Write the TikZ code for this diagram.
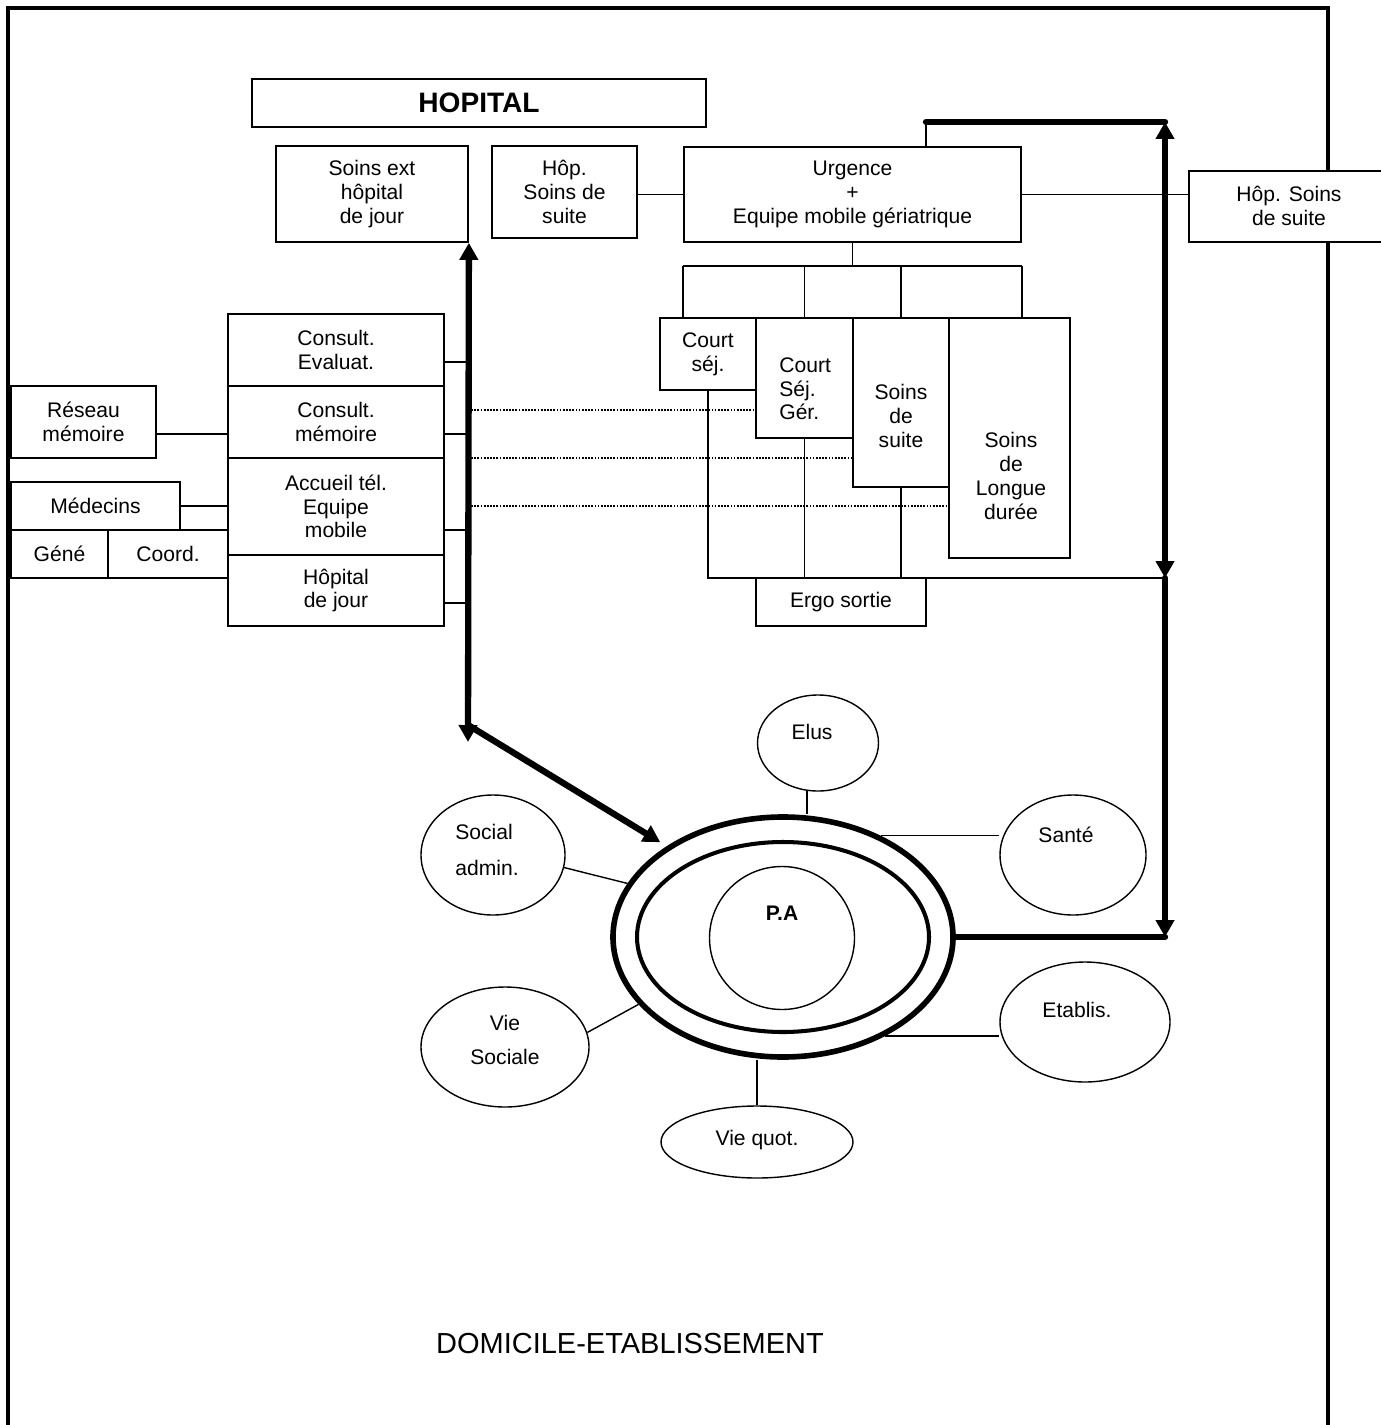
\documentclass[tikz,border=0pt]{standalone}
\usepackage{fontspec}
\setmainfont{Liberation Sans}
\usetikzlibrary{shapes.geometric,arrows.meta}

\tikzset{
  boite/.style={draw, line width=1pt, inner sep=0pt, align=center},
  taille/.style 2 args={minimum width=#1*0.02cm, minimum height=#2*0.02cm},
  bulle/.style={draw, ellipse, line width=0.8pt, inner sep=0pt},
  texte/.style={inner sep=0pt, align=center},
  gras/.style={font=\fontsize{12}{13.5}\selectfont\bfseries},
  trait/.style={line width=0.8pt},
  pointille/.style={line width=0.6pt, dash pattern=on 1pt off 0.8pt},
  epais/.style={line width=3.6pt, line cap=round},
  cadre/.style={line width=2pt},
}

\begin{document}
\begin{tikzpicture}[x=0.02cm, y=-0.02cm, font=\fontsize{12}{13.5}\selectfont,
    >={Triangle[length=0.34cm, width=0.36cm]}]
    \useasboundingbox (0,0) rectangle (1380,1425);

    % Cadre
    \draw[cadre] (8,1425) -- (8,8) -- (1328,8) -- (1328,1425);

    % Hopital
    \node[boite, taille={454}{48}, font=\fontsize{16}{18}\selectfont\bfseries] (hopital) at (479,103) {HOPITAL};
    \node[boite, taille={192}{96}] (soinsext) at (372,194) {Soins ext\\hôpital\\de jour};
    \node[boite, taille={145}{92}] (hopsuite) at (564.5,192) {Hôp.\\Soins de\\suite};
    \node[boite, taille={337}{95}] (urgence) at (852.5,194.5) {Urgence\\+\\Equipe mobile gériatrique};
    \node[boite, fill=white, taille={240}{71}] (hopsuiteD) at (1309,206.5) {};
    \node[texte] (thopsuiteD) at (1289,206) {Hôp. Soins\\de suite};

    % Consultations
    \node[boite, taille={216}{72}] (consevl) at (336,350) {Consult.\\Evaluat.};
    \node[boite, taille={216}{72}] (consmem) at (336,422) {Consult.\\mémoire};
    \node[boite, taille={216}{97}] (accueil) at (336,506.5) {Accueil tél.\\Equipe\\mobile};
    \node[boite, taille={216}{71}] (hdj) at (336,590.5) {Hôpital\\de jour};

    \node[boite, taille={145}{72}] (reseau) at (83.5,422) {Réseau\\mémoire};
    \node[boite, taille={169}{48}] (medecins) at (95.5,506) {Médecins};
    \node[boite, taille={97}{48}] (gene) at (59.5,554) {Géné};
    \node[boite, taille={120}{48}] (coord) at (168,554) {Coord.};

    % Services
    \node[boite, taille={96}{72}] (courtsej) at (708,354) {Court\\séj.};
    \node[boite, taille={97}{120}] (courtger) at (804.5,378) {};
    \node[texte, anchor=west, align=left] (tcourtger) at (779,389) {Court\\Séj.\\Gér.};
    \node[boite, taille={96}{169}] (soinsuite) at (901,402.5) {};
    \node[texte] (tsoinsuite) at (901,416) {Soins\\de\\suite};
    \node[boite, taille={121}{240}] (longue) at (1009.5,438) {};
    \node[texte] (tlongue) at (1011,476) {Soins\\de\\Longue\\durée};
    \node[boite, taille={170}{48}] (ergo) at (841,602) {Ergo sortie};

    % Domicile
    \node[bulle, line width=3.2pt, taille={340}{240}] (anneau) at (783,937) {};
    \node[bulle, line width=2.3pt, taille={292}{190}] (anneau2) at (783,937) {};
    \node[bulle, taille={145}{143}] (pa) at (782,938) {};
    \node[texte, gras] (tpa) at (782,913) {P.A};

    \node[bulle, taille={121}{96}] (elus) at (818,743) {};
    \node[texte] (telus) at (812,732) {Elus};
    \node[bulle, taille={146}{120}] (sante) at (1073,855) {};
    \node[texte] (tsante) at (1066,835) {Santé};
    \node[bulle, taille={144}{120}] (social) at (493,855) {};
    \node[texte, align=left] (tsocial) at (487,850) {Social\\[0.24cm]admin.};
    \node[bulle, taille={168}{120}] (viesoc) at (505,1047) {};
    \node[texte] (tviesoc) at (505,1040) {Vie\\[0.22cm]Sociale};
    \node[bulle, taille={170}{120}] (etablis) at (1085,1022) {};
    \node[texte] (tetablis) at (1077,1010) {Etablis.};
    \node[bulle, taille={192}{72}] (viequot) at (757,1142) {};
    \node[texte] (tviequot) at (757,1140) {Vie quot.};

    \node[font=\fontsize{16.5}{19}\selectfont] (domicile) at (630,1344) {DOMICILE-ETABLISSEMENT};

    % Points de renvoi
    \coordinate (coinG) at (468,742);
    \coordinate (coudeG) at (468,725);
    \coordinate (renvoi) at (926,122);
    \coordinate (hautD) at (1165,122);
    \coordinate (milD) at (1165,578);
    \coordinate (basD) at (1165,937);
    \coordinate (bus) at (852.5,266);

    % Liaisons hopital
    \draw[trait] (urgence.west -| hopsuite.east) -- (urgence.west);
    \draw[trait] (urgence.east) -- (urgence.east -| hopsuiteD.west);
    \draw[trait] (renvoi |- urgence.north) -- (renvoi);
    \draw[trait] (urgence.south) -- (bus);
    \draw[trait] (urgence.west |- bus) -- (urgence.east |- bus);
    \draw[trait] (urgence.west |- bus) -- (urgence.west |- courtsej.north);
    \draw[trait] (courtger.north |- bus) -- (courtger.north);
    \draw[trait] (soinsuite.north |- bus) -- (soinsuite.north);
    \draw[trait] (urgence.east |- bus) -- (urgence.east |- longue.north);

    \draw[trait] (courtsej.south) |- (milD);
    \draw[trait] (courtger.south) -- (courtger.south |- milD);
    \draw[trait] (soinsuite.south) -- (soinsuite.south |- milD);

    % Liaisons consultations
    \draw[trait] ([yshift=-0.24cm]consevl.east) -- +(24,0);
    \draw[trait] ([yshift=-0.24cm]consmem.east) -- +(24,0);
    \draw[trait] ([yshift=-0.47cm]accueil.east) -- +(24,0);
    \draw[trait] ([yshift=-0.25cm]hdj.east) -- +(24,0);
    \draw[trait] ([yshift=-0.24cm]reseau.east) -- ([yshift=-0.24cm]consmem.west);
    \draw[trait] (medecins.east) -- (medecins.east -| accueil.west);

    \coordinate (p1) at (468,410);
    \coordinate (p2) at (468,458);
    \coordinate (p3) at (468,506);
    \draw[pointille] (p1) -- (p1 -| courtger.west);
    \draw[pointille] (p2) -- (p2 -| soinsuite.west);
    \draw[pointille] (p3) -- (p3 -| longue.west);

    % Liaisons domicile
    \draw[trait] (elus.257) -- (elus.257 |- anneau.north);
    \draw[trait] (anneau.46) -- (anneau.46 -| sante.west);
    \draw[trait] (social.-10) -- (anneau.161);
    \draw[trait] (viesoc.10) -- (anneau.205);
    \draw[trait] (anneau.-44) -- (anneau.-44 -| etablis.west);
    \draw[trait] (viequot.north) -- (viequot.north |- anneau.south);

    % Fleches
    \draw[epais, <->] (soinsext.south east) -- (coinG);
    \draw[epais, ->, shorten >=0.15cm] (coudeG) -- (anneau.142);
    \draw[epais] (renvoi) -- (hautD);
    \draw[epais, <->] (hautD) -- (milD);
    \draw[epais, ->] (milD) -- (basD);
    \draw[epais] (anneau.east) -- (basD);
\end{tikzpicture}
\end{document}
